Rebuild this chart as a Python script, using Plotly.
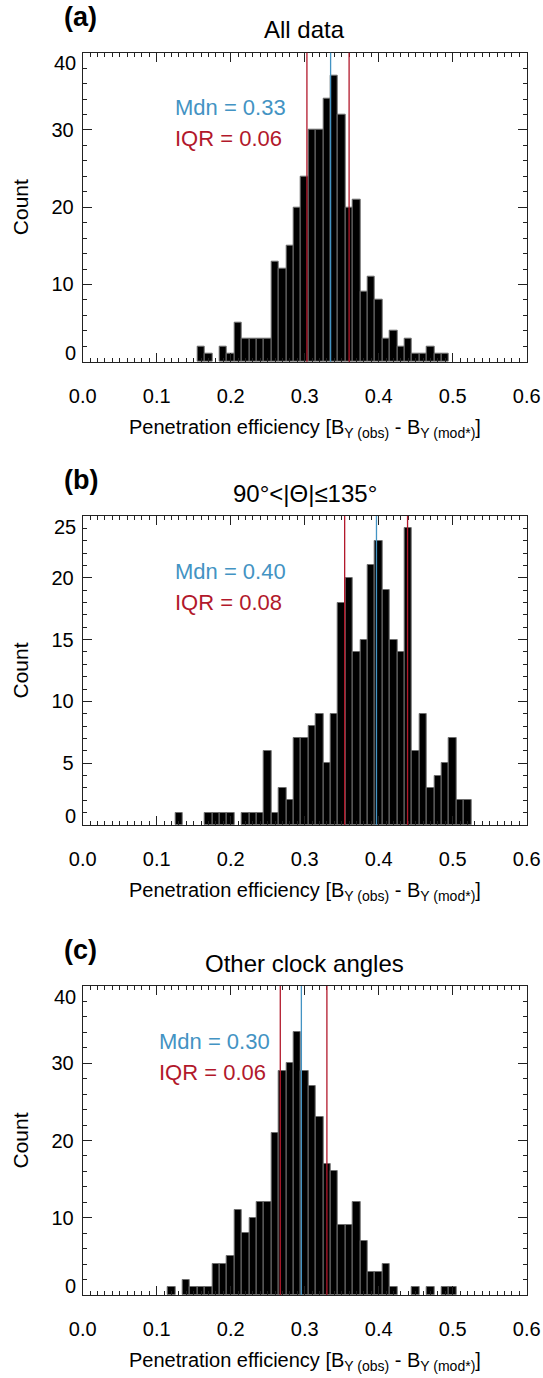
import plotly.graph_objects as go

# ---------------- data ----------------
BIN_CENTERS = [0.12, 0.13, 0.14, 0.15, 0.16, 0.17, 0.18, 0.19, 0.20, 0.21,
               0.22, 0.23, 0.24, 0.25, 0.26, 0.27, 0.28, 0.29, 0.30, 0.31,
               0.32, 0.33, 0.34, 0.35, 0.36, 0.37, 0.38, 0.39, 0.40, 0.41,
               0.42, 0.43, 0.44, 0.45, 0.46, 0.47, 0.48, 0.49, 0.50, 0.51, 0.52]
BIN_WIDTH = 0.01

COUNTS_A = [0, 0, 0, 0, 2, 1, 0, 2, 1, 5,
            3, 3, 3, 3, 13, 12, 15, 20, 24, 30,
            30, 34, 37, 32, 20, 21, 9, 11, 8, 3,
            4, 2, 3, 1, 1, 2, 1, 1, 0, 0, 0]
COUNTS_B = [0, 1, 0, 0, 0, 1, 1, 1, 1, 0,
            1, 1, 1, 6, 1, 3, 2, 7, 7, 8,
            9, 5, 9, 18, 20, 14, 15, 21, 23, 19,
            15, 14, 24, 6, 9, 3, 4, 5, 7, 2, 2]
COUNTS_C = [1, 0, 2, 1, 1, 1, 4, 4, 5, 11,
            8, 10, 12, 12, 21, 29, 30, 34, 29, 27,
            23, 17, 16, 9, 9, 12, 7, 3, 3, 4,
            1, 0, 0, 1, 0, 1, 0, 1, 1, 0, 0]

LETTERS = ["(a)", "(b)", "(c)"]
TITLES = ["All data", "90°<|Θ|≤135°", "Other clock angles"]
MEDIANS = [0.335, 0.397, 0.2955]
Q1 = [0.303, 0.354, 0.267]
Q3 = [0.360, 0.439, 0.330]
MDN_TEXT = ["Mdn = 0.33", "Mdn = 0.40", "Mdn = 0.30"]
IQR_TEXT = ["IQR = 0.06", "IQR = 0.08", "IQR = 0.06"]
TEXT_X = [0.1216, 0.1216, 0.1008]
Y_MAX = [40, 25, 40]
Y_DTICK = [10, 5, 10]
Y_MINOR = [2, 1, 2]
X_RANGE = [0.0, 0.6]
X_TITLE = "Penetration efficiency [B<sub>Y (obs)</sub> - B<sub>Y (mod*)</sub>]"
Y_TITLE = "Count"

# ---------------- styling / layout ----------------
W, H = 543, 1378
FONT = "Liberation Sans, Arial, Helvetica, sans-serif"
BLUE = "#4393C3"
RED = "#B2182B"
X0_PX, X1_PX = 82.7, 526.7
TOPS_PX = [52.7, 516.0, 986.0]
PH = 309.0

def fy(px):
    return 1 - px / H

fig = go.Figure()
annotations = []
shapes = []
counts_all = [COUNTS_A, COUNTS_B, COUNTS_C]

for i in range(3):
    sfx = "" if i == 0 else str(i + 1)
    xa, ya = "x" + sfx, "y" + sfx
    top, bot = TOPS_PX[i], TOPS_PX[i] + PH

    # empty bins are not drawn (no outline on the axis)
    yvals_bar = [c if c > 0 else None for c in counts_all[i]]
    fig.add_trace(go.Bar(
        x=BIN_CENTERS, y=yvals_bar, width=BIN_WIDTH,
        marker=dict(color="black", line=dict(color="#6e6e6e", width=1)),
        xaxis=xa, yaxis=ya, showlegend=False, hoverinfo="x+y"))

    axis_common = dict(
        showgrid=False, zeroline=False, showline=True, linecolor="#222",
        linewidth=1, mirror="allticks", ticks="inside", tickcolor="#222",
        tickwidth=1, automargin=False,
        tickfont=dict(family=FONT, size=20, color="black"))

    # inner y ticks on the axis; end labels are drawn pulled inward
    yvals = list(range(Y_DTICK[i], Y_MAX[i], Y_DTICK[i]))

    fig.update_layout(**{
        ("xaxis" + sfx): dict(
            axis_common, range=X_RANGE, dtick=0.1, tick0=0, tickformat=".1f",
            ticklen=9, ticklabelstandoff=16,
            minor=dict(dtick=0.01, tick0=0, ticks="inside", ticklen=4,
                       tickcolor="#222", showgrid=False),
            domain=[X0_PX / W, X1_PX / W], anchor=ya),
        ("yaxis" + sfx): dict(
            axis_common, range=[0, Y_MAX[i]], tickmode="array",
            tickvals=yvals, ticktext=[str(v) for v in yvals],
            ticklen=9, ticklabelstandoff=4,
            minor=dict(dtick=Y_MINOR[i], tick0=0, ticks="inside", ticklen=4,
                       tickcolor="#222", showgrid=False),
            domain=[fy(bot), fy(top)], anchor=xa),
    })

    for v, shift in [(0, 9), (Y_MAX[i], -10.5)]:
        annotations.append(dict(
            text=str(v), xref=xa + " domain", yref=ya, x=0, y=v,
            xanchor="right", yanchor="middle", xshift=-5, yshift=shift,
            showarrow=False, font=dict(family=FONT, size=20, color="black")))

    # median / quartile lines
    for xv, col in [(Q1[i], RED), (Q3[i], RED), (MEDIANS[i], BLUE)]:
        shapes.append(dict(type="line", xref=xa, yref=ya + " domain",
                           x0=xv, x1=xv, y0=0, y1=1,
                           line=dict(color=col, width=1.3)))

    annotations += [
        dict(text="<b>" + LETTERS[i] + "</b>", xref="paper", yref="paper",
             x=62 / W, y=fy(top - 36), xanchor="left", yanchor="middle",
             showarrow=False, font=dict(family=FONT, size=27, color="black")),
        dict(text=TITLES[i], xref="paper", yref="paper",
             x=(X0_PX + X1_PX) / 2 / W, y=fy(top - 23), xanchor="center",
             yanchor="middle", showarrow=False,
             font=dict(family=FONT, size=24, color="black")),
        dict(text=MDN_TEXT[i], xref=xa, yref=ya + " domain", x=TEXT_X[i],
             y=1 - 55 / PH, xanchor="left", yanchor="middle", showarrow=False,
             font=dict(family=FONT, size=22, color=BLUE)),
        dict(text=IQR_TEXT[i], xref=xa, yref=ya + " domain", x=TEXT_X[i],
             y=1 - 86 / PH, xanchor="left", yanchor="middle", showarrow=False,
             font=dict(family=FONT, size=22, color=RED)),
        dict(text=Y_TITLE, xref="paper", yref="paper", x=20 / W,
             y=fy(top + PH / 2), xanchor="center", yanchor="middle",
             textangle=-90, showarrow=False,
             font=dict(family=FONT, size=21, color="black")),
        dict(text=X_TITLE, xref="paper", yref="paper",
             x=(X0_PX + X1_PX) / 2 / W, y=fy(bot + 66.6), xanchor="center",
             yanchor="middle", showarrow=False,
             font=dict(family=FONT, size=20, color="black")),
    ]

fig.update_layout(
    width=W, height=H, margin=dict(l=0, r=0, t=0, b=0, autoexpand=False),
    paper_bgcolor="white", plot_bgcolor="white", bargap=0,
    annotations=annotations, shapes=shapes,
    font=dict(family=FONT, color="black"))

fig.write_html(
    "out.html",
    config={"displayModeBar": False},
    post_script="document.body.style.margin='0';"
                "document.body.style.padding='0';"
                "document.body.style.overflow='hidden';"
                "document.documentElement.style.overflow='hidden';")
